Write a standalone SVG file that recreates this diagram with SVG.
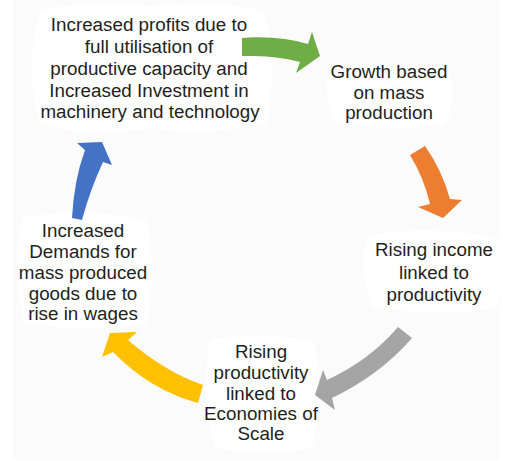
<svg xmlns="http://www.w3.org/2000/svg" width="519" height="461" viewBox="0 0 519 461">
<style>
.t{font-family:"Liberation Sans",Arial,sans-serif;font-size:18.8px;fill:#231f20;text-anchor:middle}
.blob{fill:#ffffff}
</style>
<rect x="0" y="0" width="519" height="461" fill="#ffffff"/>
<rect x="13" y="0" width="487" height="459" fill="#fbfbfb"/>
<g id="background-blobs">
<path class="blob" d="M40,10 Q90,0 150,6 Q220,-2 264,12 Q280,60 266,124 Q200,136 150,128 Q90,138 40,124 Q24,70 40,10 Z"/>
<path class="blob" d="M330,68 Q390,58 448,68 Q458,96 446,124 Q390,132 334,122 Q322,96 330,68 Z"/>
<path class="blob" d="M368,236 Q430,224 498,238 Q508,272 496,308 Q430,318 372,306 Q358,270 368,236 Z"/>
<path class="blob" d="M210,340 Q262,330 314,342 Q326,396 312,448 Q262,458 216,448 Q200,396 210,340 Z"/>
<path class="blob" d="M22,218 Q84,206 146,220 Q158,270 146,324 Q84,334 24,322 Q12,270 22,218 Z"/>
</g>
<g id="connectors">
<path id="arrow-green" fill="#70ad47" d="M242,38 Q278,35 308,44 L312,32 L320,56 L296,73 L300,62 Q274,55 242,56 Z"/>
<path id="arrow-orange" fill="#ed7d31" d="M410,155 L425,146 Q442,170 450,199 L462,200 L443,218 L418,207 L430,204 Q424,178 410,155 Z"/>
<path id="arrow-grey" fill="#a5a5a5" d="M398,327 L412,338 Q380,375 332,398 L335,410 L315,395 L323,370 L327,380 Q370,360 398,327 Z"/>
<path id="arrow-yellow" fill="#ffc000" d="M102,357 L110,333 L137,332 L128,340 Q165,372 203,385 L198,403 Q150,390 113,352 Z"/>
<path id="arrow-blue" fill="#4472c4" d="M72,218 Q74,180 85,150 L77,143 L102,142 L112,165 L103,162 Q90,190 82,220 Z"/>
</g>
<g id="node-profits">
<text class="t" x="149" y="31">Increased profits due to</text>
<text class="t" x="149" y="53">full utilisation of</text>
<text class="t" x="149" y="75">productive capacity and</text>
<text class="t" x="149" y="97">Increased Investment in</text>
<text class="t" x="150" y="118">machinery and technology</text>
</g>
<g id="node-growth">
<text class="t" x="389" y="78">Growth based</text>
<text class="t" x="389" y="98.5">on mass</text>
<text class="t" x="389" y="119">production</text>
</g>
<g id="node-income">
<text class="t" x="434" y="256">Rising income</text>
<text class="t" x="434" y="278.5">linked to</text>
<text class="t" x="434" y="301">productivity</text>
</g>
<g id="node-productivity">
<text class="t" x="261" y="358">Rising</text>
<text class="t" x="261" y="379">productivity</text>
<text class="t" x="261" y="400">linked to</text>
<text class="t" x="261" y="420">Economies of</text>
<text class="t" x="261" y="440">Scale</text>
</g>
<g id="node-demand">
<text class="t" x="83" y="237">Increased</text>
<text class="t" x="83" y="258">Demands for</text>
<text class="t" x="83" y="279">mass produced</text>
<text class="t" x="83" y="300">goods due to</text>
<text class="t" x="83" y="320">rise in wages</text>
</g>
</svg>
